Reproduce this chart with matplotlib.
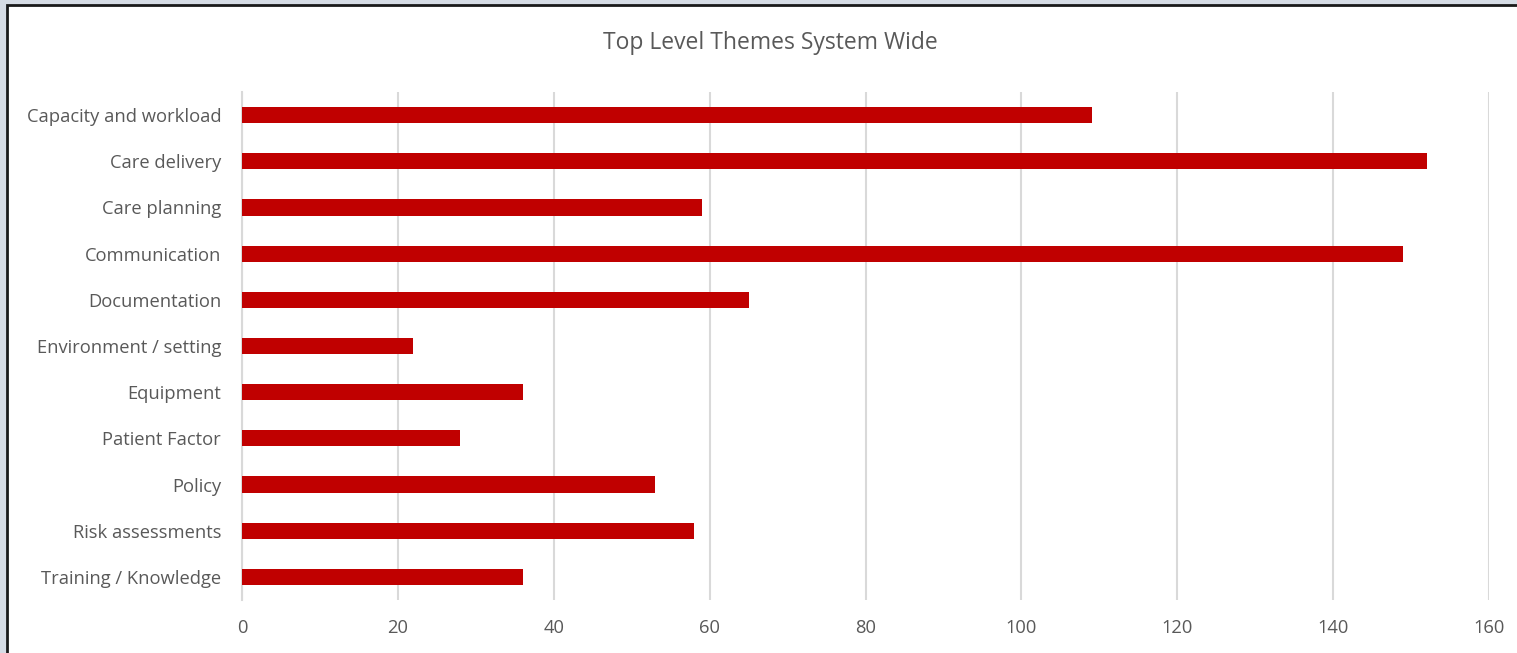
import matplotlib.pyplot as plt
from matplotlib.patches import Rectangle

# values
themes = ['Capacity and workload', 'Care delivery', 'Care planning', 'Communication',
          'Documentation', 'Environment / setting', 'Equipment', 'Patient Factor',
          'Policy', 'Risk assessments', 'Training / Knowledge']
counts = [109, 152, 59, 149, 65, 22, 36, 28, 53, 58, 36]
x_ticks = [0, 20, 40, 60, 80, 100, 120, 140, 160]

plt.rcParams['font.family'] = ['Open Sans', 'DejaVu Sans']
text_grey = '#595959'

fig = plt.figure(figsize=(15.17, 6.53), dpi=100)
fig.patch.set_facecolor('#D6DCE5')

# white chart area with dark border (clipped at right/bottom like the screenshot)
W, H = 1517, 653
fig.patches.append(Rectangle((7 / W, -0.05), 1.1, 1 - 5 / H + 0.05,
                             transform=fig.transFigure, facecolor='white',
                             edgecolor='#1a1a1a', linewidth=2, zorder=-1))

ax = fig.add_axes([242 / W, 1 - 600 / H, (1489 - 242) / W, (600 - 92) / H])
ax.set_zorder(2)
ax.set_facecolor('none')

ypos = list(range(len(themes)))
ax.barh(ypos, counts, height=0.35, color='#C00000', zorder=3)

ax.set_xlim(0, 160)
ax.set_ylim(len(themes) - 0.5, -0.5)
ax.set_xticks(x_ticks)
ax.set_yticks(ypos)
ax.set_yticklabels(themes)

ax.grid(True, axis='x', color='#D9D9D9', linewidth=1.5, zorder=0)
for s in ['top', 'right', 'bottom']:
    ax.spines[s].set_visible(False)
ax.spines['left'].set_color('#D9D9D9')
ax.spines['left'].set_linewidth(1.5)

ax.tick_params(axis='both', length=0, labelsize=13.2, colors=text_grey)
ax.tick_params(axis='x', pad=14)
ax.tick_params(axis='y', pad=15)

fig.text(770 / W, 1 - 43 / H, 'Top Level Themes System Wide', ha='center',
         va='center', fontsize=16.5, color=text_grey)

fig.savefig('out.png', dpi=100, facecolor=fig.get_facecolor())
